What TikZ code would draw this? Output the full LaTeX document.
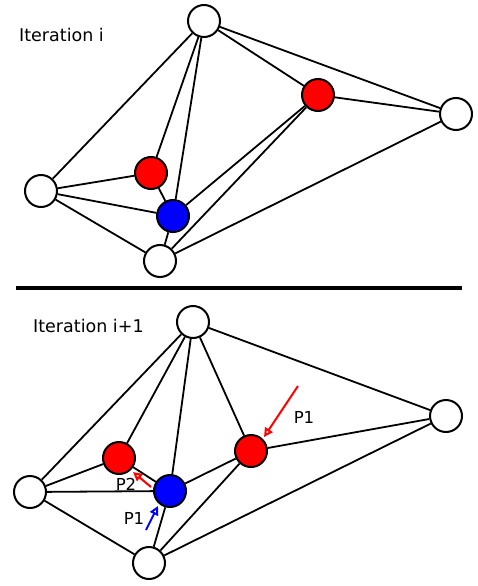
\documentclass[tikz,border=0pt]{standalone}
\usepackage{fontspec}
\setmainfont{DejaVu Sans}
\usetikzlibrary{arrows.meta}
\begin{document}
\begin{tikzpicture}[x=1pt,y=-1pt,
  vtx/.style={circle,draw=black,line width=2pt,minimum size=32pt,inner sep=0pt,fill=white},
  hot/.style={vtx,fill=red},
  cur/.style={vtx,fill=blue},
  edge/.style={line width=1.8pt,black},
  move/.style={line width=2pt,-{Triangle[open,length=9pt,width=9pt]}},
  ttl/.style={font=\fontsize{17.5}{20}\selectfont,anchor=west,inner sep=0pt},
  lbl/.style={font=\fontsize{16.5}{19}\selectfont,inner sep=0pt}]
\useasboundingbox (0,0) rectangle (478,586);

% ---- iteration i ----
\node[ttl] (t1) at (19,35) {Iteration i};
\node[vtx] (a1) at (204,21) {};
\node[hot] (b1) at (318,95) {};
\node[vtx] (c1) at (456,114) {};
\node[vtx] (d1) at (41,191) {};
\node[hot] (e1) at (151,173) {};
\node[cur] (f1) at (173,216) {};
\node[vtx] (g1) at (160,261) {};
\foreach \u/\v in {a1/d1,a1/e1,a1/f1,a1/b1,a1/c1,b1/c1,b1/f1,b1/g1,c1/g1,
                   d1/e1,d1/f1,d1/g1,e1/f1,f1/g1}
  \draw[edge] (\u) -- (\v);

% ---- separator ----
\coordinate (s0) at (16,288);
\coordinate (s1) at (462,288);
\draw[line width=4pt] (s0) -- (s1);

% ---- iteration i+1 ----
\node[ttl] (t2) at (33,326) {Iteration i+1};
\node[vtx] (a2) at (193,322) {};
\node[vtx] (c2) at (446,416) {};
\node[vtx] (d2) at (30,492) {};
\node[hot] (e2) at (119,458) {};
\node[cur] (f2) at (170,491) {};
\node[hot] (b2) at (251,451) {};
\node[vtx] (g2) at (149,563) {};
\foreach \u/\v in {a2/d2,a2/e2,a2/f2,a2/b2,a2/c2,b2/c2,b2/f2,b2/g2,c2/g2,
                   d2/e2,d2/f2,d2/g2,e2/f2,f2/g2}
  \draw[edge] (\u) -- (\v);

% moves of the particles
\coordinate (p1s) at (298,386);
\coordinate (p1t) at (264,437);
\draw[move,red] (p1s) -- (p1t);
\node[lbl] (p1l) at (304,417) {P1};

\coordinate (p2s) at (151,487);
\coordinate (p2t) at (133,472);
\draw[move,red] (p2s) -- (p2t);
\node[lbl] (p2l) at (126,484) {P2};

\coordinate (p3s) at (146,530);
\coordinate (p3t) at (158,506);
\draw[move,blue] (p3s) -- (p3t);
\node[lbl] (p3l) at (134,518) {P1};
\end{tikzpicture}
\end{document}
